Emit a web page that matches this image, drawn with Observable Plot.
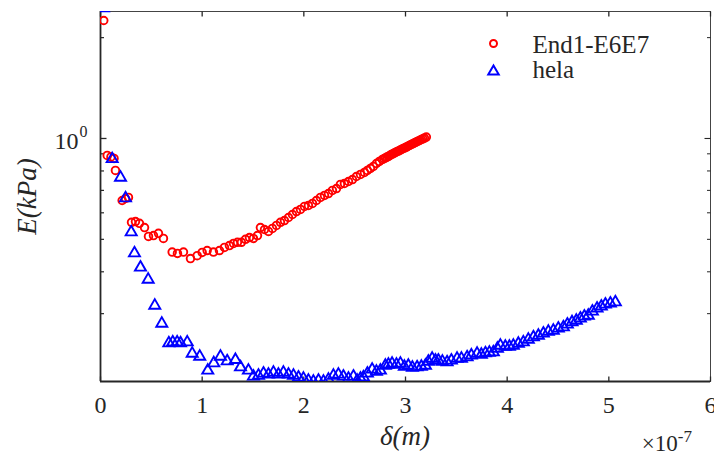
<!DOCTYPE html>
<html><head><meta charset="utf-8">
<script src="https://cdn.jsdelivr.net/npm/d3@7"></script>
<script src="https://cdn.jsdelivr.net/npm/@observablehq/plot@0.6"></script>
</head><body style="margin:0;background:#fff">
<div id="chart"></div>
<div id="caption" style="position:relative;width:714px;height:32px;font-family:'Liberation Serif';color:#262626;overflow:hidden">
  <span id="xlabel" style="position:absolute;left:405px;top:3px;transform:translateX(-50%);font-size:27px;font-style:italic;line-height:1;white-space:nowrap"></span>
  <span id="xscale" style="position:absolute;right:22px;top:8px;font-size:23px;line-height:1;white-space:nowrap"></span>
</div>
<script>
// δ in units of 1e-7 m, E in kPa
const endDelta = [0.032,0.066,0.103,0.133,0.147,0.213,0.246,0.275,0.305,0.344,0.383,0.433,0.472,0.521,0.570,0.619,0.705,0.757,0.816,0.885,0.951,1.000,1.049,1.111,1.170,1.219,1.268,1.308,1.347,1.386,1.426,1.465,1.504,1.544,1.573,1.613,1.652,1.691,1.731,1.770,1.809,1.849,1.888,1.927,1.967,2.006,2.045,2.085,2.124,2.163,2.203,2.242,2.281,2.321,2.360,2.399,2.439,2.478,2.517,2.557,2.596,2.625,2.655,2.684,2.714,2.743,2.773,2.788,2.802,2.817,2.832,2.847,2.861,2.876,2.891,2.906,2.920,2.935,2.950,2.965,2.979,2.994,3.009,3.024,3.038,3.053,3.068,3.083,3.097,3.112,3.127,3.142,3.156,3.171,3.186,3.205];
const endE = [2.250,0.890,0.881,0.872,0.803,0.653,0.662,0.667,0.562,0.565,0.558,0.542,0.510,0.513,0.521,0.503,0.458,0.454,0.458,0.438,0.447,0.457,0.463,0.458,0.463,0.473,0.479,0.486,0.490,0.490,0.500,0.506,0.503,0.513,0.542,0.535,0.528,0.539,0.550,0.562,0.569,0.581,0.593,0.605,0.614,0.627,0.631,0.640,0.653,0.667,0.676,0.685,0.700,0.709,0.729,0.734,0.744,0.754,0.770,0.781,0.792,0.803,0.814,0.825,0.842,0.854,0.866,0.870,0.875,0.880,0.884,0.890,0.896,0.900,0.905,0.910,0.915,0.919,0.924,0.929,0.934,0.938,0.943,0.948,0.953,0.958,0.963,0.968,0.973,0.978,0.983,0.988,0.993,0.998,1.003,1.010];
const helaDelta = [0.029,0.115,0.197,0.246,0.302,0.334,0.393,0.469,0.534,0.603,0.672,0.711,0.754,0.787,0.853,0.902,0.976,1.055,1.114,1.180,1.246,1.327,1.377,1.455,1.504,1.554,1.603,1.652,1.701,1.750,1.799,1.849,1.898,1.947,1.996,2.045,2.094,2.144,2.193,2.242,2.291,2.340,2.389,2.439,2.488,2.524,2.557,2.586,2.625,2.672,2.714,2.753,2.802,2.832,2.868,2.911,2.950,2.989,3.028,3.068,3.114,3.156,3.196,3.225,3.262,3.294,3.323,3.363,3.409,3.451,3.507,3.550,3.606,3.648,3.704,3.746,3.786,3.825,3.864,3.904,3.933,3.982,4.022,4.061,4.110,4.159,4.208,4.258,4.307,4.356,4.405,4.454,4.503,4.553,4.592,4.638,4.680,4.720,4.759,4.798,4.838,4.884,4.926,4.966,5.015,5.064];
const helaE = [2.45,0.8686,0.7648,0.6634,0.5253,0.4546,0.4121,0.3794,0.3173,0.2804,0.2449,0.2465,0.2465,0.2449,0.2465,0.2281,0.2235,0.2030,0.2135,0.2235,0.2164,0.2185,0.2076,0.2030,0.1949,0.1961,0.1989,0.1975,0.2002,0.1975,0.2002,0.1975,0.1961,0.1935,0.1921,0.1895,0.1882,0.1895,0.1882,0.1908,0.1961,0.1975,0.1949,0.1921,0.1949,0.1895,0.1921,0.1939,0.1989,0.2044,0.2016,0.2030,0.2100,0.2115,0.2130,0.2115,0.2130,0.2086,0.2100,0.2072,0.2076,0.2086,0.2100,0.2159,0.2204,0.2175,0.2175,0.2159,0.2149,0.2175,0.2204,0.2204,0.2224,0.2252,0.2281,0.2265,0.2286,0.2297,0.2302,0.2361,0.2410,0.2393,0.2393,0.2410,0.2443,0.2465,0.2512,0.2552,0.2580,0.2618,0.2654,0.2672,0.2710,0.2734,0.2786,0.2830,0.2860,0.2903,0.2943,0.2960,0.3046,0.3109,0.3152,0.3196,0.3218,0.3246];
const seriesNames = ["End1-E6E7", "hela"];
const xTicks = [0, 1, 2, 3, 4, 5, 6];
const yMajorTicks = [1];
const yMinorTicks = [0.3, 0.4, 0.5, 0.6, 0.7, 0.8, 0.9, 2];
const xDomain = [0, 6];
const yDomain = [0.1882, 2.3935];
const xLabel = "δ(m)";
const xScaleBase = "×10";
const xScaleExp = "-7";
const yLabel = "E(kPa)";

const endData = endDelta.map((d, i) => ({x: d, y: endE[i]}));
const helaData = helaDelta.map((d, i) => ({x: d, y: helaE[i]}));

const tickSym = (dx, dy) => ({draw(ctx) { ctx.moveTo(0, 0); ctx.lineTo(dx, dy); }});
const ink = "#262626";
const FONT = "Liberation Serif";
const TXT = {fontFamily: FONT, fill: ink};

const chart = Plot.plot({
  width: 714, height: 420,
  marginLeft: 100, marginRight: 4, marginTop: 11, marginBottom: 39,
  x: {domain: xDomain, axis: null},
  y: {type: "log", domain: yDomain, axis: null},
  marks: [
    Plot.frame({stroke: "#444", strokeWidth: 1}),
    Plot.ruleX([xDomain[0]], {stroke: ink, strokeWidth: 1.8}),
    Plot.ruleY([yDomain[0]], {stroke: ink, strokeWidth: 1.8}),
    // x ticks (inward, bottom and top)
    Plot.dot(xTicks, {x: d => d, frameAnchor: "bottom", symbol: tickSym(0, -5), stroke: ink, strokeWidth: 1.3, fill: "none"}),
    Plot.dot(xTicks, {x: d => d, frameAnchor: "top", symbol: tickSym(0, 5), stroke: ink, strokeWidth: 1.3, fill: "none"}),
    // y ticks
    Plot.dot(yMajorTicks, {y: d => d, frameAnchor: "left", symbol: tickSym(6, 0), stroke: ink, strokeWidth: 1.3, fill: "none"}),
    Plot.dot(yMinorTicks, {y: d => d, frameAnchor: "left", symbol: tickSym(3.5, 0), stroke: ink, strokeWidth: 1.2, fill: "none"}),
    Plot.dot(yMajorTicks, {y: d => d, frameAnchor: "right", symbol: tickSym(-6, 0), stroke: ink, strokeWidth: 1.1, fill: "none"}),
    Plot.dot(yMinorTicks, {y: d => d, frameAnchor: "right", symbol: tickSym(-3.5, 0), stroke: ink, strokeWidth: 1, fill: "none"}),
    // tick labels
    Plot.text(xTicks, {x: d => d, text: d => String(d), frameAnchor: "bottom", dy: 24, lineAnchor: "middle", textAnchor: "middle", fontSize: 24, ...TXT}),
    Plot.text(yMajorTicks, {y: d => d, text: () => "10", frameAnchor: "left", dx: -22, dy: 3, lineAnchor: "middle", textAnchor: "end", fontSize: 24, ...TXT}),
    Plot.text(yMajorTicks, {y: d => d, text: () => "0", frameAnchor: "left", dx: -21, dy: -7, lineAnchor: "middle", textAnchor: "start", fontSize: 16, ...TXT}),
    // y axis label
    Plot.text([yLabel], {text: d => d, frameAnchor: "left", dx: -73, rotate: -90, textAnchor: "middle", lineAnchor: "middle", fontSize: 27, fontStyle: "italic", ...TXT}),
    // data
    Plot.dot(endData, {x: "x", y: "y", symbol: "circle", r: 3.8, stroke: "#ff0000", strokeWidth: 1.9, fill: "none", clip: true}),
    Plot.dot(helaData, {x: "x", y: "y", symbol: "triangle", r: 4.1, stroke: "#0000ff", strokeWidth: 1.9, fill: "none", clip: true}),
    // legend
    Plot.dot([seriesNames[0]], {frameAnchor: "top-left", dx: 393, dy: 32, symbol: "circle", r: 3.5, stroke: "#ff0000", strokeWidth: 2, fill: "none"}),
    Plot.dot([seriesNames[1]], {frameAnchor: "top-left", dx: 393, dy: 60, symbol: "triangle", r: 3.9, stroke: "#0000ff", strokeWidth: 2, fill: "none"}),
    Plot.text([seriesNames[0]], {text: d => d, frameAnchor: "top-left", dx: 432, dy: 33, textAnchor: "start", lineAnchor: "middle", fontSize: 25, ...TXT}),
    Plot.text([seriesNames[1]], {text: d => d, frameAnchor: "top-left", dx: 432, dy: 58, textAnchor: "start", lineAnchor: "middle", fontSize: 25, ...TXT})
  ]
});
d3.select(chart).selectAll("text").attr("font-family", FONT).style("font-family", FONT);
document.getElementById("chart").appendChild(chart);

// x-axis title and scale factor as a caption below the SVG
document.getElementById("xlabel").textContent = xLabel;
const xs = document.getElementById("xscale");
xs.textContent = xScaleBase;
const sup = document.createElement("sup");
sup.textContent = xScaleExp;
sup.style.fontSize = "17px";
sup.style.verticalAlign = "9px";
xs.appendChild(sup);
</script>
</body></html>
